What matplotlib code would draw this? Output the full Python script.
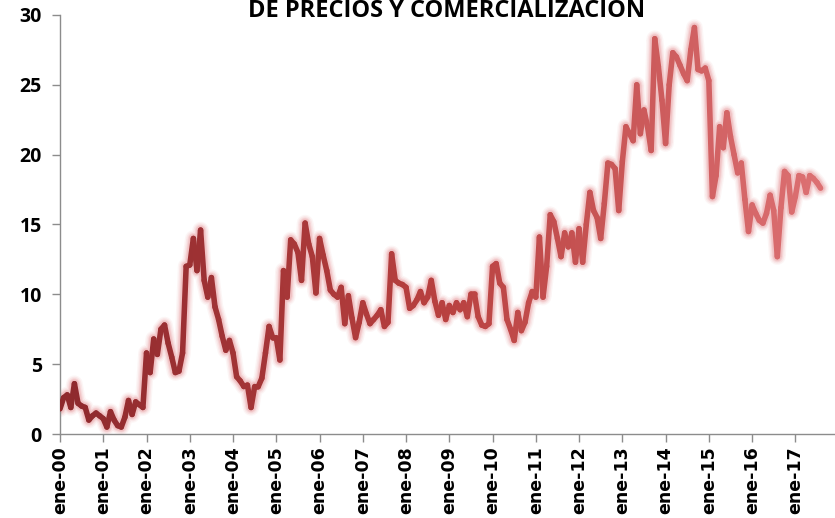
import numpy as np
import matplotlib.pyplot as plt
from matplotlib.collections import LineCollection
from matplotlib.colors import LinearSegmentedColormap

# monthly values, ene-00 .. ago-17
values = [
    1.8, 2.6, 2.8, 1.9, 3.6, 2.2, 2.0, 1.9, 1.0, 1.3, 1.5, 1.3,        # 2000
    1.1, 0.5, 1.6, 1.0, 0.6, 0.5, 1.2, 2.4, 1.4, 2.3, 2.1, 1.9,        # 2001
    5.8, 4.4, 6.8, 5.7, 7.5, 7.8, 6.5, 5.5, 4.4, 4.5, 5.8, 12.0,       # 2002
    12.1, 14.0, 11.7, 14.6, 11.0, 9.8, 11.2, 9.1, 8.2, 7.0, 6.0, 6.7,  # 2003
    5.8, 4.1, 3.8, 3.4, 3.5, 1.9, 3.4, 3.4, 4.0, 5.8, 7.7, 6.9,        # 2004
    6.9, 5.3, 11.7, 9.8, 13.9, 13.6, 13.0, 11.0, 15.1, 13.6, 12.7, 10.1,  # 2005
    14.0, 12.8, 11.7, 10.3, 10.0, 9.8, 10.5, 7.9, 9.9, 8.3, 6.9, 8.0,  # 2006
    9.4, 8.6, 7.9, 8.2, 8.5, 8.9, 7.7, 8.0, 12.9, 11.0, 10.8, 10.7,    # 2007
    10.5, 9.0, 9.2, 9.6, 10.2, 9.4, 9.8, 11.0, 9.5, 8.5, 9.4, 8.2,     # 2008
    9.2, 8.7, 9.4, 8.9, 9.4, 8.4, 10.0, 10.0, 8.4, 7.8, 7.7, 7.9,      # 2009
    12.0, 12.2, 10.8, 10.5, 8.2, 7.5, 6.7, 8.7, 7.4, 8.0, 9.4, 10.2,   # 2010
    9.8, 14.1, 9.8, 12.0, 15.7, 15.2, 14.0, 12.7, 14.4, 13.4, 14.4, 12.3,  # 2011
    14.7, 12.3, 15.0, 17.3, 16.0, 15.5, 14.0, 16.5, 19.4, 19.3, 19.0, 16.0,  # 2012
    19.5, 22.0, 21.5, 21.0, 25.0, 21.5, 23.2, 22.0, 20.3, 28.3, 26.3, 23.9,  # 2013
    20.8, 25.0, 27.3, 27.0, 26.4, 25.8, 25.3, 27.5, 29.1, 26.1, 26.0, 26.2,  # 2014
    25.3, 17.0, 18.5, 22.0, 20.5, 23.0, 21.3, 20.0, 18.7, 19.4, 16.8, 14.5,  # 2015
    16.4, 15.8, 15.3, 15.1, 15.8, 17.1, 16.0, 12.7, 16.2, 18.8, 18.5, 15.9,  # 2016
    17.0, 18.5, 18.4, 17.3, 18.5, 18.3, 18.0, 17.6,                    # 2017
]
years = ["ene-%02d" % y for y in range(0, 18)]
title = "DE PRECIOS Y COMERCIALIZACION"

x = np.arange(len(values))
y = np.array(values)

fig = plt.figure(figsize=(8.35, 5.18), dpi=100)
ax = fig.add_axes([60 / 835, 1 - 434 / 518, 1 - 60 / 835, (434 - 15) / 518])

# glow rosado bajo la linea
for lw, a in [(12, 0.08), (10, 0.12), (8, 0.18), (6.5, 0.25)]:
    ax.plot(x, y, color="#e58a8c", lw=lw, alpha=a, solid_capstyle="round",
            solid_joinstyle="round", zorder=2)

# linea principal con degradado de rojo oscuro a rojo claro
pts = np.column_stack([x, y]).reshape(-1, 1, 2)
segs = np.concatenate([pts[:-1], pts[1:]], axis=1)
cmap = LinearSegmentedColormap.from_list("rojo", ["#8e292d", "#b8403f", "#dc7072"])
lc = LineCollection(segs, cmap=cmap, linewidths=4.0, capstyle="round",
                    joinstyle="round", zorder=3)
lc.set_array(x[:-1] / x[-1])
ax.add_collection(lc)

ax.set_xlim(0, 215)
ax.set_ylim(0, 30)
ax.set_yticks(range(0, 31, 5))
ax.set_xticks(np.arange(0, 12 * len(years), 12))
ax.set_xticklabels(years, rotation=90, fontsize=12.5, fontweight="bold",
                   family="DejaVu Sans")
for lab in ax.get_yticklabels():
    lab.set_fontsize(14)
    lab.set_fontweight("bold")
    lab.set_family("Open Sans")

for s in ["top", "right"]:
    ax.spines[s].set_visible(False)
for s in ["left", "bottom"]:
    ax.spines[s].set_color("#8c8c8c")
    ax.spines[s].set_linewidth(1.0)
ax.tick_params(axis="both", colors="#8c8c8c", length=6, width=1, labelcolor="black")
ax.tick_params(axis="y", pad=7)
ax.tick_params(axis="x", pad=3)

fig.text(447 / 835, 1 - 17 / 518, title, ha="center", va="baseline",
         fontsize=17, fontweight="bold", family="Open Sans", color="black")

fig.savefig("out.png", dpi=100)
